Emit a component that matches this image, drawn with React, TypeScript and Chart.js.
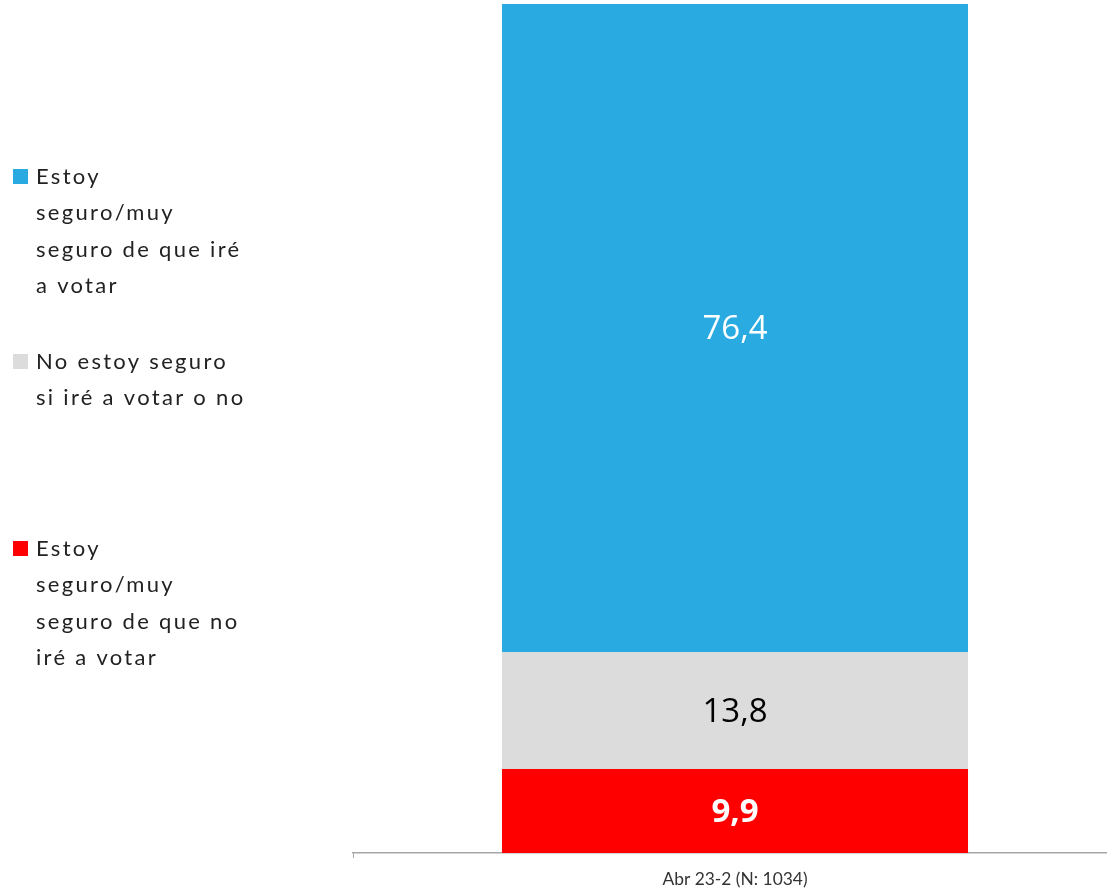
import React, { useEffect, useRef } from "react";
import { Chart, registerables } from "chart.js";

Chart.register(...registerables);

const categories = ["Abr 23-2 (N: 1034)"];
const seriesNames = [
  "Estoy seguro/muy seguro de que no iré a votar",
  "No estoy seguro si iré a votar o no",
  "Estoy seguro/muy seguro de que iré a votar",
];
const redValues = [9.9];
const grayValues = [13.8];
const blueValues = [76.4];
const seriesColors = ["#FF0000", "#DCDCDC", "#29ABE2"];
const labelColors = ["#FFFFFF", "#000000", "#FFFFFF"];
const labelWeights = ["bold", "normal", "normal"];
// legend (top to bottom), pre-wrapped lines as in the reference
const legendLines = [
  ["Estoy", "seguro/muy", "seguro de que iré", "a votar"],
  ["No estoy seguro", "si iré a votar o no"],
  ["Estoy", "seguro/muy", "seguro de que no", "iré a votar"],
];
const legendColors = ["#29ABE2", "#DCDCDC", "#FF0000"];
const legendTops = [177, 362, 549];

const fmt = (v: number) => v.toFixed(1).replace(".", ",");

const labelPlugin = {
  id: "barLabels",
  afterDatasetsDraw(chart: any) {
    const ctx = chart.ctx;
    chart.data.datasets.forEach((ds: any, i: number) => {
      const meta = chart.getDatasetMeta(i);
      meta.data.forEach((bar: any, j: number) => {
        const v = ds.data[j];
        const y = (bar.y + bar.base) / 2;
        ctx.save();
        ctx.font = `${labelWeights[i]} 33px "Open Sans"`;
        ctx.fillStyle = labelColors[i];
        ctx.textAlign = "center";
        ctx.textBaseline = "middle";
        ctx.fillText(fmt(v), bar.x, y + 2);
        ctx.restore();
      });
    });
  },
};

const legendPlugin = {
  id: "customLegend",
  afterDraw(chart: any) {
    const ctx = chart.ctx;
    ctx.save();
    ctx.font = '22px "Lato"';
    (ctx as any).letterSpacing = "2.3px";
    ctx.textBaseline = "middle";
    ctx.textAlign = "left";
    legendLines.forEach((lines, i) => {
      const top = legendTops[i];
      ctx.fillStyle = legendColors[i];
      ctx.fillRect(13, top - 8, 15, 15);
      ctx.fillStyle = "#222222";
      lines.forEach((ln, k) => {
        ctx.fillText(ln, 36, top + k * 36.3);
      });
    });
    ctx.restore();
  },
};

export default function App() {
  const ref = useRef<HTMLCanvasElement>(null);
  useEffect(() => {
    if (!ref.current) return;
    const chart = new Chart(ref.current, {
      type: "bar",
      data: {
        labels: categories,
        datasets: [
          { label: seriesNames[0], data: redValues, backgroundColor: seriesColors[0] },
          { label: seriesNames[1], data: grayValues, backgroundColor: seriesColors[1] },
          { label: seriesNames[2], data: blueValues, backgroundColor: seriesColors[2] },
        ],
      },
      options: {
        responsive: false,
        animation: false,
        layout: { padding: { left: 353, right: 0, top: 4, bottom: 0 } },
        datasets: { bar: { categoryPercentage: 1, barPercentage: 0.61, borderWidth: 0 } },
        plugins: { legend: { display: false }, tooltip: { enabled: false } },
        scales: {
          x: {
            stacked: true,
            grid: {
              display: true,
              drawOnChartArea: false,
              drawTicks: true,
              tickLength: 5,
              offset: true,
              color: "#A6A6A6",
            },
            border: { display: true, color: "#A6A6A6", width: 1.5 },
            ticks: {
              color: "#333333",
              font: { family: "Lato", size: 17.4 },
              padding: 11,
            },
            afterFit: (scale: any) => {
              scale.height = 37;
            },
          },
          y: {
            stacked: true,
            display: false,
            min: 0,
            max: 100.1,
          },
        },
      },
      plugins: [labelPlugin, legendPlugin],
    });
    return () => chart.destroy();
  }, []);
  return (
    <div style={{ position: "fixed", left: 0, top: 0, width: 1107, height: 890, overflow: "hidden", background: "#fff" }}>
      <canvas ref={ref} width={1117} height={890} style={{ width: 1117, height: 890, display: "block" }} />
    </div>
  );
}
